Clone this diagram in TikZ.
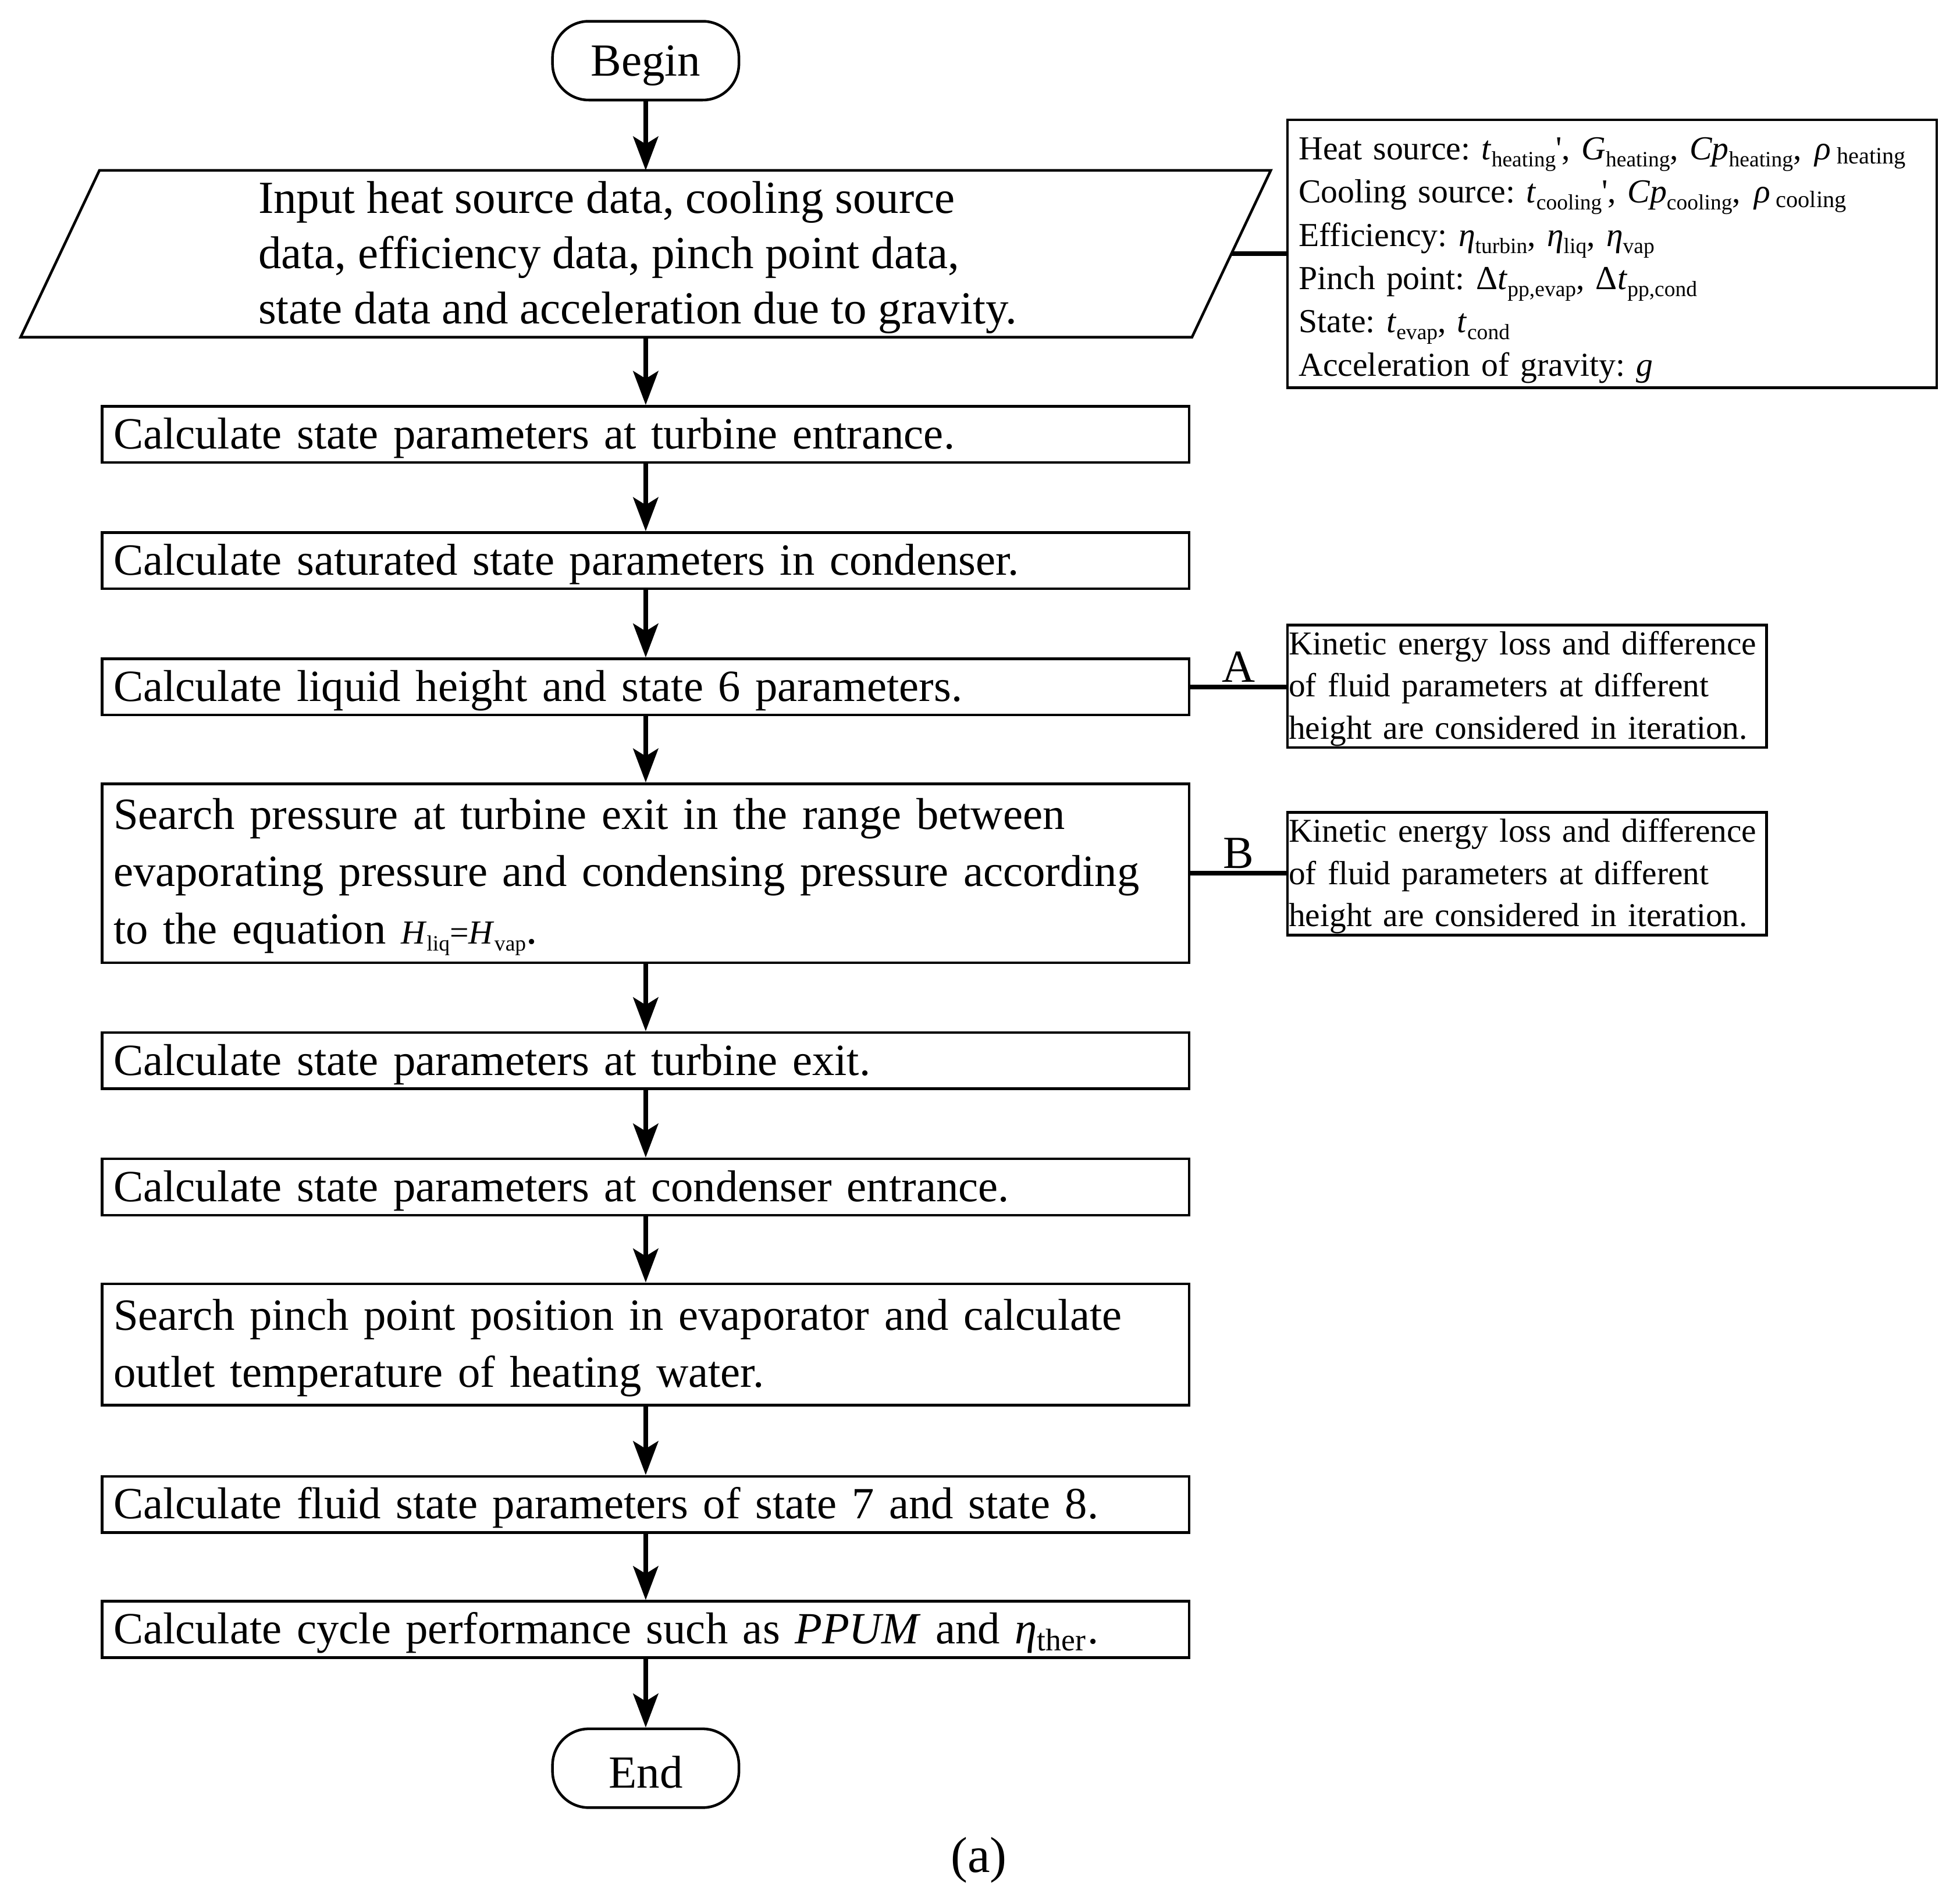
\documentclass[tikz,border=0pt]{standalone}
\usepackage{fontspec}
\setmainfont{Liberation Serif}
\usetikzlibrary{arrows.meta,calc}
\frenchspacing
\newcommand\MyMainFont{\frenchspacing\fontsize{10.15pt}{13pt}\selectfont}
\newcommand\MyInputFont{\frenchspacing\fontsize{10.45pt}{12.6pt}\selectfont}
\newcommand\MyNoteFont{\frenchspacing\fontsize{7.64pt}{9.85pt}\selectfont}
\newcommand\MySideFont{\frenchspacing\fontsize{7.59pt}{9.6pt}\selectfont}
\newcommand\sbs[1]{\textsubscript{#1}}
\newcommand\sbsN[1]{\raisebox{-1.6pt}{\fontsize{4.97pt}{5pt}\selectfont #1}}
\newcommand\prm{\textquotesingle}
\begin{document}
\begin{tikzpicture}[x=0.01cm,y=-0.01cm,
  procbox/.style={draw, line width=0.6pt, minimum width=8.69cm, text width=8.51cm,
    inner xsep=0.09cm, inner ysep=0pt, align=left, font=\MyMainFont,
    execute at begin node={\rule{0pt}{8.7pt}}},
  termbox/.style={draw, line width=0.6pt, rounded corners=0.29cm, minimum width=1.49cm,
    minimum height=0.63cm, inner sep=0pt, font=\MyInputFont,
    execute at begin node={\rule{0pt}{9.1pt}}},
  flow/.style={line width=1.1pt, -{Stealth[length=0.27cm,width=0.2cm,inset=0.06cm]}},
  notebox/.style={draw, line width=0.6pt, align=left},
  link/.style={line width=1.1pt}]
\useasboundingbox (0,0) rectangle (1567.8,1517.1);

% terminals
\node[termbox] (begin) at (516.5,48.5) {Begin};
\node[termbox] (end) at (516.5,1414.5) {End};

% input parallelogram
\node[minimum width=9.98cm, minimum height=1.32cm, inner sep=0pt] (inp) at (516.5,203) {};
\draw[line width=0.6pt] ([xshift=0.63cm]inp.north west) -- (inp.north east)
  -- ([xshift=-0.63cm]inp.south east) -- (inp.south west) -- cycle;
\node[font=\MyInputFont, align=left, anchor=west, inner sep=0pt] (inptxt) at (206,206)
  {Input heat source data, cooling source\\ data, efficiency data, pinch point data,\\ state data and acceleration due to gravity.};
\coordinate (inpR) at ([xshift=-0.315cm]inp.east);

% info box
\node[notebox, font=\MyNoteFont, text width=5.01cm, inner xsep=0.09cm, inner ysep=0pt,
  minimum height=2.14cm] (info) at (1289.5,203)
  {\mbox{\rule{0pt}{8pt}Heat source: \textit{t}\sbsN{heating}\prm, \textit{G}\sbsN{heating}, \textit{Cp}\sbsN{heating},\hspace{0.4em}\textit{ρ}\,\sbs{heating}}\\
   \mbox{Cooling source: \textit{t}\sbsN{cooling}\prm, \textit{Cp}\sbsN{cooling},\hspace{0.4em}\textit{ρ}\,\sbs{cooling}}\\
   Efficiency: \textit{η}\sbsN{turbin}, \textit{η}\sbsN{liq}, \textit{η}\sbsN{vap}\\
   Pinch point: Δ\textit{t}\sbsN{pp,evap}, Δ\textit{t}\sbsN{pp,cond}\\
   State: \textit{t}\sbsN{evap}, \textit{t}\sbsN{cond}\\
   Acceleration of gravity: \textit{g}};

% process boxes
\node[procbox, minimum height=0.45cm] (b1) at (516.5,347.5) {Calculate state parameters at turbine entrance.};
\node[procbox, minimum height=0.45cm] (b2) at (516.5,448.5) {Calculate saturated state parameters in condenser.};
\node[procbox, minimum height=0.45cm] (b3) at (516.5,549.5) {Calculate liquid height and state 6 parameters.};
\node[procbox, minimum height=1.43cm] (b4) at (516.5,698.5)
  {Search pressure at turbine exit in the range between\\ evaporating pressure and condensing pressure according\\ to the equation {\MyNoteFont\textit{H}\sbsN{liq}=\textit{H}\sbsN{vap}}.};
\node[procbox, minimum height=0.45cm] (b5) at (516.5,848.5) {Calculate state parameters at turbine exit.};
\node[procbox, minimum height=0.45cm] (b6) at (516.5,949.5) {Calculate state parameters at condenser entrance.};
\node[procbox, minimum height=0.97cm] (b7) at (516.5,1075.5)
  {Search pinch point position in evaporator and calculate\\ outlet temperature of heating water.};
\node[procbox, minimum height=0.45cm] (b8) at (516.5,1203.5) {Calculate fluid state parameters of state 7 and state 8.};
\node[procbox, minimum height=0.45cm] (b9) at (516.5,1303.5) {Calculate cycle performance such as \textit{PPUM} and \textit{η}\sbs{ther}.};

% side notes
\node[notebox, font=\MySideFont, text width=3.81cm, inner xsep=0.01cm, inner ysep=0pt,
  minimum height=0.98cm] (na) at (1221.5,549)
  {\rule{0pt}{6.4pt}Kinetic energy loss and difference\\ of fluid parameters at different\\ height are considered in iteration.};
\node[notebox, font=\MySideFont, text width=3.81cm, inner xsep=0.01cm, inner ysep=0pt,
  minimum height=0.98cm] (nb) at (1221.5,699)
  {\rule{0pt}{6.4pt}Kinetic energy loss and difference\\ of fluid parameters at different\\ height are considered in iteration.};

% flow arrows
\draw[flow] (begin.south) -- (begin.south |- inp.north);
\draw[flow] (inp.south) -- (b1.north);
\draw[flow] (b1.south) -- (b2.north);
\draw[flow] (b2.south) -- (b3.north);
\draw[flow] (b3.south) -- (b4.north);
\draw[flow] (b4.south) -- (b5.north);
\draw[flow] (b5.south) -- (b6.north);
\draw[flow] (b6.south) -- (b7.north);
\draw[flow] (b7.south) -- (b8.north);
\draw[flow] (b8.south) -- (b9.north);
\draw[flow] (b9.south) -- (end.north);

% links to notes
\draw[link] (inpR) -- (info.west);
\draw[link] (b3.east) -- node[above, inner sep=0.5pt, font=\MyInputFont] (la) {A} (b3.east -| na.west);
\draw[link] (b4.east) -- node[above, inner sep=0.5pt, font=\MyInputFont] (lb) {B} (b4.east -| nb.west);

% caption
\node[font=\fontsize{11.5pt}{14pt}\selectfont] (cap) at (783,1488) {(a)};
\end{tikzpicture}
\end{document}
